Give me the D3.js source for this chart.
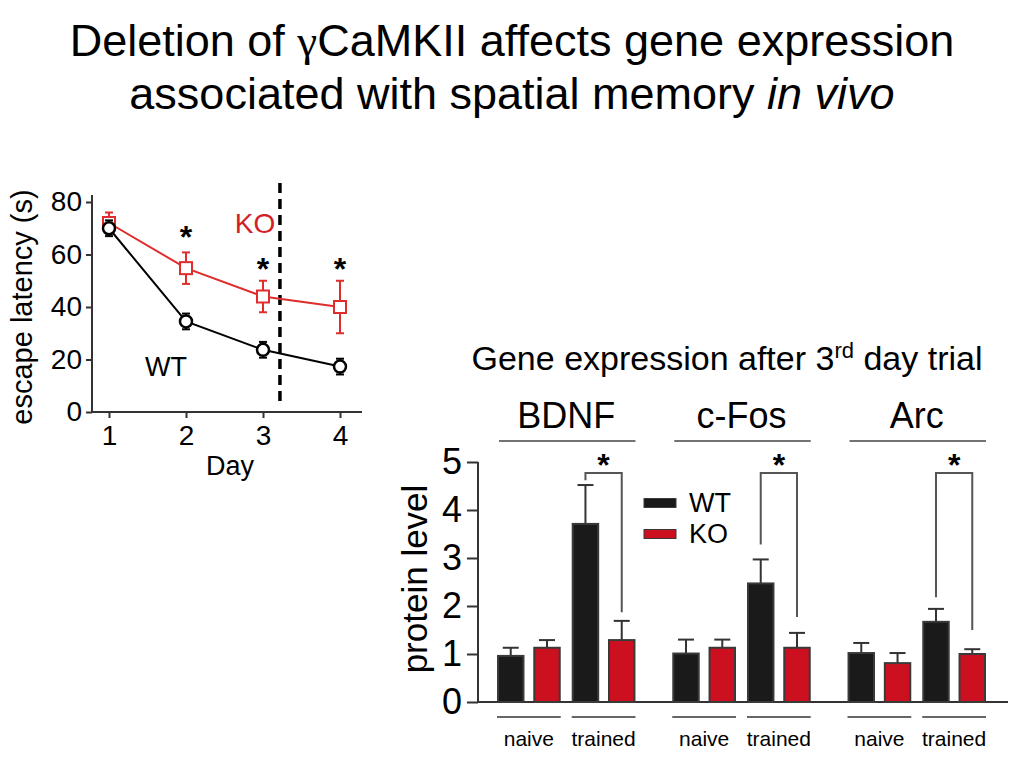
<!DOCTYPE html>
<html>
<head>
<meta charset="utf-8">
<script src="https://cdnjs.cloudflare.com/ajax/libs/d3/7.8.5/d3.min.js"></script>
<style>
  body { margin: 0; background: #fff; }
  text { font-family: "Liberation Sans", Arial, Helvetica, sans-serif; fill: #000; }
</style>
</head>
<body>
<script>
// ---------- Data: escape latency (left chart) ----------
const days = [1, 2, 3, 4];
const latencyTicks = [0, 20, 40, 60, 80];
const wtLatency = [70, 34.5, 23.7, 17.3];
const wtLatencyErr = [3, 3, 3, 3];
const koLatency = [72, 54.8, 44, 40];
const koLatencyErr = [4, 6, 6, 10];
const latencySigDays = [2, 3, 4];
const latencySigLevel = [69.3, 57, 57];
const dividerDay = 3.22;

// ---------- Data: protein level (right chart) ----------
const genes = ["BDNF", "c-Fos", "Arc"];
const conditions = ["naive", "trained"];
const genotypes = ["WT", "KO"];
const proteinTicks = [0, 1, 2, 3, 4, 5];
// order: BDNF naive, BDNF trained, c-Fos naive, c-Fos trained, Arc naive, Arc trained
const wtLevel = [0.96, 3.71, 1.01, 2.47, 1.02, 1.67];
const wtLevelErr = [0.17, 0.81, 0.29, 0.50, 0.21, 0.27];
const koLevel = [1.13, 1.29, 1.13, 1.13, 0.81, 1.00];
const koLevelErr = [0.16, 0.40, 0.17, 0.31, 0.21, 0.10];
const bracketTop = [4.77, 4.77, 4.77];
const bracketLeftEnd = [4.62, 3.28, 2.18];
const bracketRightEnd = [1.87, 1.77, 1.50];
const bracketStarLevel = [5.08, 5.08, 5.08];

const RED = "#cc1020";
const LINE_RED = "#df2d2d";
const AXIS = "#333";

const svg = d3.select("body").append("svg").attr("width", 1024).attr("height", 772);

// ---------- Title ----------
const t1 = svg.append("text").attr("x", 512).attr("y", 56).attr("text-anchor", "middle").style("font-size", "45px");
t1.append("tspan").text("Deletion of ");
t1.append("tspan").style("font-family", "'Liberation Serif', 'DejaVu Serif', serif").text("γ");
t1.append("tspan").text("CaMKII affects gene expression");
const t2 = svg.append("text").attr("x", 512).attr("y", 109).attr("text-anchor", "middle").style("font-size", "45px");
t2.append("tspan").text("associated with spatial memory ");
t2.append("tspan").style("font-style", "italic").text("in vivo");

// ---------- Left chart ----------
const xL = d3.scaleLinear().domain([1, 4]).range([109, 340]);
const yL = d3.scaleLinear().domain([0, 80]).range([412, 202]);
const gL = svg.append("g");

gL.append("line").attr("x1", xL(1) - 17).attr("x2", xL(4) + 22).attr("y1", yL(0)).attr("y2", yL(0))
  .attr("stroke", AXIS).attr("stroke-width", 2);
gL.append("line").attr("x1", xL(1) - 17).attr("x2", xL(1) - 17).attr("y1", yL(80) - 7).attr("y2", yL(0))
  .attr("stroke", AXIS).attr("stroke-width", 2);

const yAxL = gL.append("g").attr("transform", `translate(${xL(1) - 17},0)`)
  .call(d3.axisLeft(yL).tickValues(latencyTicks).tickSize(6).tickPadding(4).tickFormat(d3.format("d")));
yAxL.select(".domain").remove();
yAxL.selectAll("line").attr("stroke", AXIS).attr("stroke-width", 2);
yAxL.selectAll("text").style("font-size", "28px").attr("fill", "#000");

const xAxL = gL.append("g").attr("transform", `translate(0,${yL(0)})`)
  .call(d3.axisBottom(xL).tickValues(days).tickSize(6).tickPadding(7).tickFormat(d3.format("d")));
xAxL.select(".domain").remove();
xAxL.selectAll("line").attr("stroke", AXIS).attr("stroke-width", 2);
xAxL.selectAll("text").style("font-size", "28px").attr("fill", "#000");

gL.append("text").attr("x", 230).attr("y", 475).attr("text-anchor", "middle").style("font-size", "27px").text("Day");
gL.append("text").attr("transform", "translate(32,307) rotate(-90)").attr("text-anchor", "middle")
  .style("font-size", "29px").text("escape latency (s)");

gL.append("line").attr("x1", xL(dividerDay)).attr("x2", xL(dividerDay)).attr("y1", 183).attr("y2", 403)
  .attr("stroke", "#000").attr("stroke-width", 3.5).attr("stroke-dasharray", "10,6");

const line = d3.line().x((d, i) => xL(days[i])).y(d => yL(d));

function drawSeries(vals, errs, color, shape) {
  gL.append("path").datum(vals).attr("d", line).attr("fill", "none").attr("stroke", color).attr("stroke-width", 2);
  const g = gL.append("g");
  vals.forEach((v, i) => {
    const x = xL(days[i]);
    g.append("line").attr("x1", x).attr("x2", x).attr("y1", yL(v - errs[i])).attr("y2", yL(v + errs[i]))
      .attr("stroke", color).attr("stroke-width", 2);
    [v - errs[i], v + errs[i]].forEach(e => {
      g.append("line").attr("x1", x - 4).attr("x2", x + 4).attr("y1", yL(e)).attr("y2", yL(e))
        .attr("stroke", color).attr("stroke-width", 2);
    });
    if (shape === "square") {
      g.append("rect").attr("x", x - 6).attr("y", yL(v) - 6).attr("width", 12).attr("height", 12)
        .attr("fill", "#fff").attr("stroke", color).attr("stroke-width", 2);
    } else {
      g.append("circle").attr("cx", x).attr("cy", yL(v)).attr("r", 6)
        .attr("fill", "#fff").attr("stroke", color).attr("stroke-width", 2.5);
    }
  });
}
drawSeries(koLatency, koLatencyErr, LINE_RED, "square");
drawSeries(wtLatency, wtLatencyErr, "#000", "circle");

latencySigDays.forEach((d, i) => {
  gL.append("text").attr("x", xL(d)).attr("y", yL(latencySigLevel[i]) + 18).attr("text-anchor", "middle")
    .style("font-size", "32px").style("font-weight", "bold").text("*");
});
gL.append("text").attr("x", 255).attr("y", 223).attr("dy", "0.35em").attr("text-anchor", "middle")
  .style("font-size", "28px").style("fill", "#d42027").text("KO");
gL.append("text").attr("x", 166).attr("y", 367).attr("dy", "0.35em").attr("text-anchor", "middle")
  .style("font-size", "27px").text("WT");

// ---------- Right chart ----------
const x0 = d3.scaleBand().domain(genes).range([497, 986]).paddingInner(0.21).paddingOuter(0);
const x1 = d3.scaleBand().domain(conditions).range([0, x0.bandwidth()]).paddingInner(0.147);
const x2 = d3.scaleBand().domain(genotypes).range([0, x1.bandwidth()]).paddingInner(0.243);
const yR = d3.scaleLinear().domain([0, 5]).range([702, 462]);
const gR = svg.append("g");

gR.append("text").attr("x", 727).attr("y", 370).attr("text-anchor", "middle").style("font-size", "34px")
  .call(t => {
    t.append("tspan").text("Gene expression after 3");
    t.append("tspan").attr("baseline-shift", "super").style("font-size", "22px").text("rd");
    t.append("tspan").text(" day trial");
  });

const axisX = 478;
gR.append("line").attr("x1", axisX).attr("x2", 1008).attr("y1", yR(0)).attr("y2", yR(0))
  .attr("stroke", AXIS).attr("stroke-width", 2);
const yAxR = gR.append("g").attr("transform", `translate(${axisX},0)`)
  .call(d3.axisLeft(yR).tickValues(proteinTicks).tickSize(11).tickPadding(5).tickFormat(d3.format("d")));
yAxR.select(".domain").attr("stroke", AXIS).attr("stroke-width", 2).attr("d", `M0,${yR(5)}V${yR(0)}`);
yAxR.selectAll("line").attr("stroke", AXIS).attr("stroke-width", 2);
yAxR.selectAll("text").style("font-size", "36px").attr("fill", "#000");

gR.append("text").attr("transform", "translate(427,579) rotate(-90)").attr("text-anchor", "middle")
  .style("font-size", "35px").text("protein level");

genes.forEach((gene, gi) => {
  const gx = x0(gene);
  gR.append("line").attr("x1", gx + 2).attr("x2", gx + x0.bandwidth()).attr("y1", 441).attr("y2", 441)
    .attr("stroke", "#444").attr("stroke-width", 1.5);
  gR.append("text").attr("x", gx + x0.bandwidth() / 2).attr("y", 428).attr("text-anchor", "middle")
    .style("font-size", "36px").text(gene);

  conditions.forEach((cond, ci) => {
    const cx = gx + x1(cond);
    gR.append("line").attr("x1", cx).attr("x2", cx + x1.bandwidth()).attr("y1", 717).attr("y2", 717)
      .attr("stroke", "#666").attr("stroke-width", 2);
    gR.append("text").attr("x", cx + x1.bandwidth() / 2).attr("y", 746).attr("text-anchor", "middle")
      .style("font-size", "21px").text(cond);

    const idx = gi * 2 + ci;
    const vals = { WT: [wtLevel[idx], wtLevelErr[idx]], KO: [koLevel[idx], koLevelErr[idx]] };
    genotypes.forEach(gt => {
      const bx = cx + x2(gt);
      const bw = x2.bandwidth();
      const [v, e] = vals[gt];
      gR.append("line").attr("x1", bx + bw / 2).attr("x2", bx + bw / 2).attr("y1", yR(v)).attr("y2", yR(v + e))
        .attr("stroke", "#333").attr("stroke-width", 2);
      gR.append("line").attr("x1", bx + bw / 2 - 8).attr("x2", bx + bw / 2 + 8).attr("y1", yR(v + e)).attr("y2", yR(v + e))
        .attr("stroke", "#333").attr("stroke-width", 2);
      gR.append("rect").attr("x", bx + 1).attr("y", yR(v)).attr("width", bw - 2).attr("height", yR(0) - yR(v))
        .attr("fill", gt === "WT" ? "#1a1a1a" : RED).attr("stroke", "#3a3a3a").attr("stroke-width", 2);
    });
  });

  const tx = gx + x1("trained");
  const lx = tx + x2("WT") + x2.bandwidth() / 2;
  const rx = tx + x2("KO") + x2.bandwidth() / 2;
  gR.append("path")
    .attr("d", `M${lx},${yR(bracketLeftEnd[gi])}V${yR(bracketTop[gi])}H${rx}V${yR(bracketRightEnd[gi])}`)
    .attr("fill", "none").attr("stroke", "#555").attr("stroke-width", 2);
  gR.append("text").attr("x", (lx + rx) / 2).attr("y", yR(bracketStarLevel[gi]) + 18).attr("text-anchor", "middle")
    .style("font-size", "32px").style("font-weight", "bold").text("*");
});

genotypes.forEach((gt, i) => {
  const cy = 503 + i * 31;
  gR.append("rect").attr("x", 644).attr("y", cy - 4.5).attr("width", 32).attr("height", 9)
    .attr("fill", gt === "WT" ? "#1a1a1a" : RED).attr("stroke", "#3a3a3a").attr("stroke-width", 1);
  gR.append("text").attr("x", 689).attr("y", cy).attr("dy", "0.35em").style("font-size", "27px").text(gt);
});
</script>
</body>
</html>
